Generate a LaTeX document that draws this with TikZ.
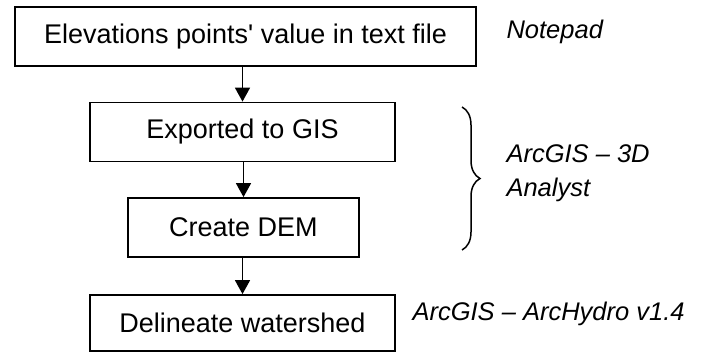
\documentclass[tikz,border=0pt]{standalone}
\usepackage{fontspec}
\setmainfont{Liberation Sans}
\usetikzlibrary{arrows.meta,decorations.pathreplacing}

\begin{document}
\begin{tikzpicture}[x=1pt,y=-1pt]
    \tikzset{stepbox/.style={shape=rectangle,draw=black,line width=1.8pt,minimum height=59pt,inner sep=0pt,font=\fontsize{27}{30}\selectfont},
        tool/.style={font=\fontsize{25.5}{34}\selectfont\itshape,anchor=base west,align=left},
        flow/.style={draw=black,line width=1.6pt,-{Triangle[width=15pt,length=14pt]}}}
    \useasboundingbox (0,0) rectangle (701,353);

    \node[stepbox,minimum width=461pt] (points) at (245.5,36.5) {Elevations points\textquotesingle{} value in text file};
    \node[stepbox,minimum width=305pt] (export) at (242.5,132) {Exported to GIS};
    \node[stepbox,minimum width=231pt] (dem) at (243.5,227.5) {Create DEM};
    \node[stepbox,minimum width=305pt,minimum height=56pt] (shed) at (242.5,323) {Delineate watershed};

    \draw[flow] (points.south -| export.north) to (export.north);
    \draw[flow] (export.south -| dem.north) to (dem.north);
    \draw[flow] (dem.south -| shed.north) to (shed.north);

    \node[tool] (notepad) at (503,39) {Notepad};
    \node[tool,anchor=west] (analyst) at (503,173) {ArcGIS -- 3D\\Analyst};
    \node[tool] (archydro) at (409,320) {ArcGIS -- ArcHydro v1.4};

    \coordinate (bracetop) at (462,107);
    \coordinate (bracebot) at (462,250);
    \draw[decorate,decoration={brace,amplitude=18pt},line width=1.5pt] (bracetop) -- (bracebot);

    \end{tikzpicture}
\end{document}
